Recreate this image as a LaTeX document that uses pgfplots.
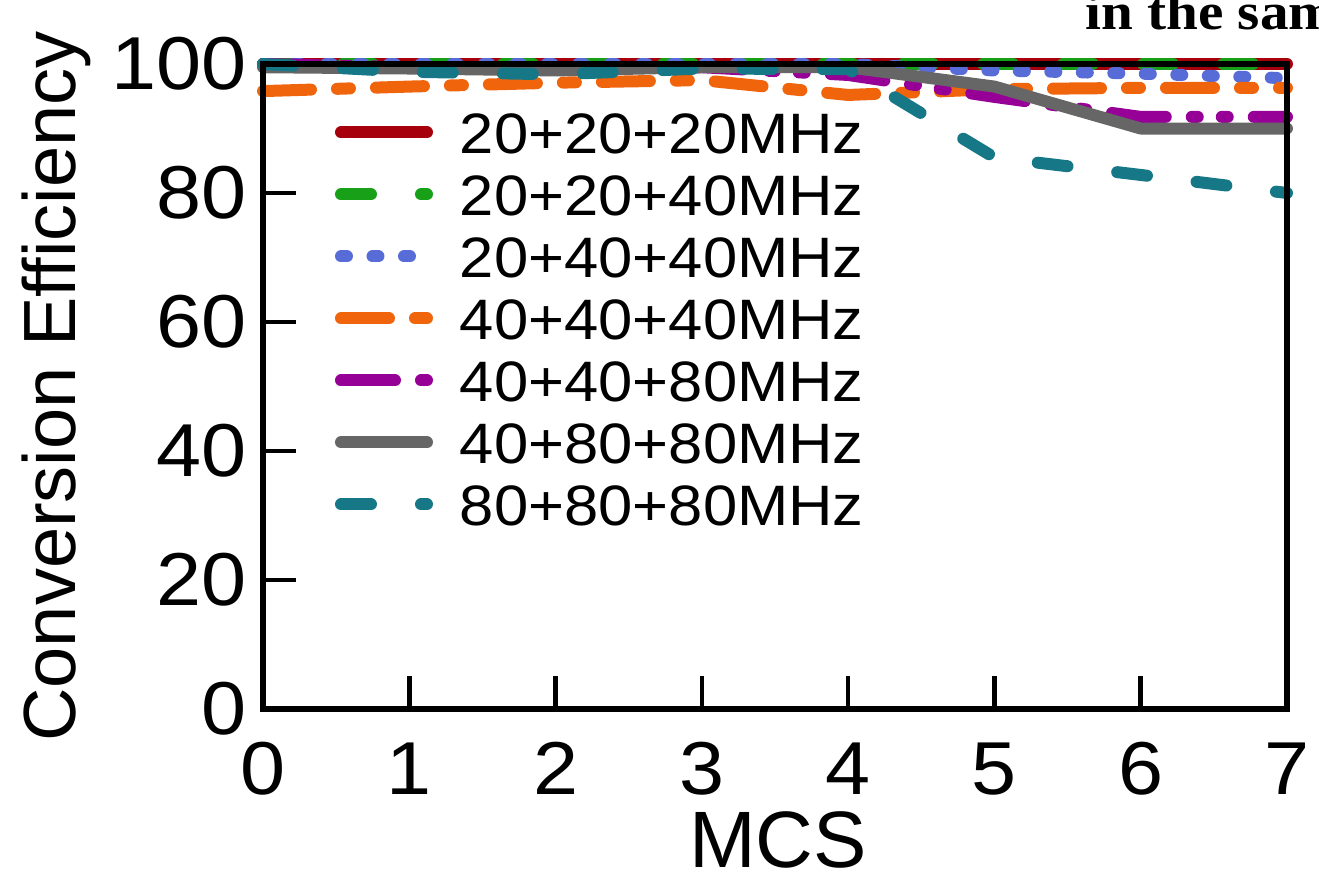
\documentclass[border=0pt]{standalone}
\usepackage{fontspec}
\setmainfont{Liberation Sans}[FakeStretch=1.08]
\newfontfamily\plainsans{Liberation Sans}
\newfontfamily\serifb{Liberation Serif}[FakeStretch=1.1]
\usepackage{pgfplots}
\pgfplotsset{compat=1.18}
\definecolor{cRed}{RGB}{165,0,12}
\definecolor{cGreen}{RGB}{24,160,24}
\definecolor{cBlue}{RGB}{88,108,215}
\definecolor{cOrange}{RGB}{240,100,12}
\definecolor{cPurple}{RGB}{150,0,150}
\definecolor{cGrey}{RGB}{102,102,102}
\definecolor{cTeal}{RGB}{22,120,135}
\begin{document}
\begin{tikzpicture}
\begin{axis}[
  at={(0,0)}, anchor=south west,
  scale only axis, width=512pt, height=322.5pt,
  xmin=0, xmax=7, ymin=0, ymax=100,
  xtick={0,1,...,7}, ytick={0,20,...,100},
  xtick pos=bottom, ytick pos=left,
  tick align=inside, major tick length=16.5pt,
  every tick/.style={black, line width=2.25pt},
  axis line style={black, line width=2.75pt},
  axis on top, clip=false,
  /pgf/number format/assume math mode=true,
  ticklabel style={font=\fontsize{37.5}{40}\selectfont},
  xticklabel style={anchor=north, inner sep=0pt, yshift=-16.5pt},
  yticklabel style={anchor=east, inner sep=0pt, xshift=-8pt},
  xlabel={MCS}, ylabel={Conversion Efficiency},
  xlabel style={font=\plainsans\fontsize{40}{44}\selectfont, at={(axis description cs:0.503,-0.2450)}, anchor=base, inner sep=0pt},
  ylabel style={font=\plainsans\fontsize{37}{40}\selectfont, at={(axis description cs:-0.1830,0.5)}, anchor=base, inner sep=0pt},
  legend style={draw=none, fill=none, at={(axis description cs:0.0703,0.9419)}, anchor=north west,
    inner sep=0pt, outer sep=0pt, row sep=0pt, font=\fontsize{28.5}{31}\selectfont,
    nodes={inner sep=0pt, text height=26.2pt, text depth=4.8pt}},
  legend cell align=left,
  legend image code/.code={\draw[#1] (0pt,0pt) -- (43pt,0pt); \path (56.5pt,0pt);},
  every axis plot/.append style={line width=6pt, line cap=round, line join=round},
]
\addplot[cRed] coordinates {(0,100)(1,100)(2,100)(3,100)(4,100)(5,100)(6,100)(7,100)};
\addlegendentry{20+20+20MHz}
\addplot[cGreen, dash pattern=on 15pt off 25pt] coordinates {(0,100)(1,100)(2,100)(3,100)(4,100)(5,100)(6,100)(7,100)};
\addlegendentry{20+20+40MHz}
\addplot[cBlue, dash pattern=on 3pt off 12.75pt] coordinates {(0,100)(1,100)(2,100)(3,100)(4,100)(5,99)(6,98.5)(7,97.8)};
\addlegendentry{20+40+40MHz}
\addplot[cOrange, dash pattern=on 24pt off 13pt on 6.5pt off 13pt] coordinates {(0,95.8)(1,96.5)(2,97.1)(3,97.5)(4,95.2)(5,96.1)(6,96.3)(7,96.3)};
\addlegendentry{40+40+40MHz}
\addplot[cPurple, dash pattern=on 27pt off 13pt on 3pt off 12pt on 3pt off 13pt] coordinates {(0,100)(1,99.5)(2,99.3)(3,99.5)(4,98.3)(5,94.9)(6,91.8)(7,91.8)};
\addlegendentry{40+40+80MHz}
\addplot[cGrey] coordinates {(0,99.5)(1,99.3)(2,99)(3,99.5)(4,99.5)(5,96.5)(6,90)(7,90)};
\addlegendentry{40+80+80MHz}
\addplot[cTeal, dash pattern=on 15pt off 25pt] coordinates {(0,100)(1,98.8)(2,98.4)(3,99.3)(4,99.2)(5,85.5)(6,82.8)(7,80)};
\addlegendentry{80+80+80MHz}
\end{axis}
\node[anchor=base west, inner sep=0pt, font=\serifb\bfseries\fontsize{26}{28}\selectfont] at (411pt,339.5pt) {in the same};
\pgfresetboundingbox
\useasboundingbox (-131.5pt,-83pt) rectangle (528pt,354.5pt);
\end{tikzpicture}
\end{document}
